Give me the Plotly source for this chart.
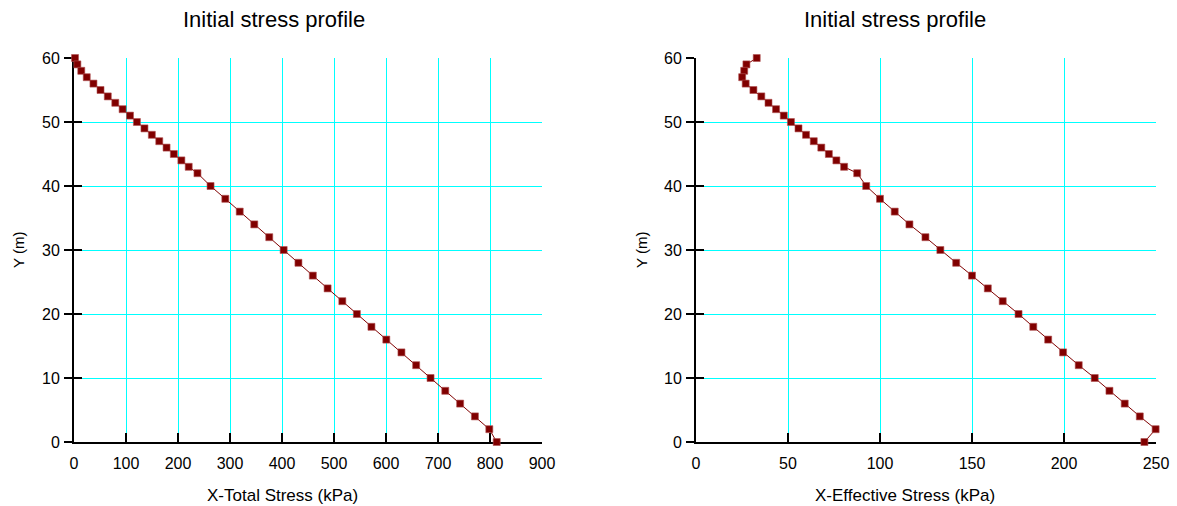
import plotly.graph_objects as go

# ---------------- data ----------------
depth_y = [60, 59, 58, 57, 56, 55, 54, 53, 52, 51, 50, 49, 48, 47, 46, 45, 44, 43, 42,
           40, 38, 36, 34, 32, 30, 28, 26, 24, 22, 20, 18, 16, 14, 12, 10, 8, 6, 4, 2, 0]
total_stress = [2, 6.5, 14, 24.5, 37.4, 51, 65, 79.4, 93.5, 107.7, 121, 135.5, 149.7, 164,
                178, 192, 206.5, 220.6, 237.4,
                262.6, 291, 318.7, 346.7, 375.5, 403.2, 431.6, 459.3, 487.7, 516, 544, 572,
                600.6, 629.7, 658, 685.7, 714, 742.6, 771, 798.7, 812.9]
effective_stress = [33.0, 27.4, 26.2, 25.1, 27.0, 31.2, 35.5, 39.4, 43.5, 47.7, 51.6, 55.7,
                    59.8, 64.0, 68.1, 72.2, 76.3, 80.5, 87.6,
                    92.5, 100, 108, 116, 124.7, 132.8, 141.4, 150, 158.6, 166.7, 175.3, 183.3,
                    191.4, 199.5, 208, 216.7, 224.7, 233, 241.2, 249.8, 243.7]

left_xticks = [0, 100, 200, 300, 400, 500, 600, 700, 800, 900]
right_xticks = [0, 50, 100, 150, 200, 250]
yticks = [0, 10, 20, 30, 40, 50, 60]

title_text = "Initial stress profile"
left_xtitle = "X-Total Stress (kPa)"
right_xtitle = "X-Effective Stress (kPa)"
ytitle = "Y (m)"

# ---------------- layout geometry ----------------
W, H = 1177, 506
FONT = "Liberation Sans, Arial, sans-serif"
LINE = "#800000"
GRID = "#00FFFF"

def px_x(p):
    return p / W

def px_y(p):
    return 1 - p / H

ydom = [px_y(442), px_y(58)]
left_dom = [px_x(74), px_x(542)]
right_dom = [px_x(696), px_x(1156)]

fig = go.Figure()

marker = dict(symbol="square", size=7, color=LINE, line=dict(width=0.6, color="#b05050"))
fig.add_trace(go.Scatter(x=total_stress, y=depth_y, mode="lines+markers",
                         line=dict(color=LINE, width=1), marker=marker,
                         xaxis="x", yaxis="y", cliponaxis=False, hoverinfo="skip"))
fig.add_trace(go.Scatter(x=effective_stress, y=depth_y, mode="lines+markers",
                         line=dict(color=LINE, width=1), marker=marker,
                         xaxis="x2", yaxis="y2", cliponaxis=False, hoverinfo="skip"))
# invisible traces for the overlay tick axes
fig.add_trace(go.Scatter(x=[None], y=[None], xaxis="x", yaxis="y3", showlegend=False))
fig.add_trace(go.Scatter(x=[None], y=[None], xaxis="x2", yaxis="y4", showlegend=False))

tickfont = dict(family=FONT, size=16, color="black")
GW = 1

def xaxis(dom, rng, vals, anchor):
    return dict(domain=dom, range=rng, tickvals=vals, ticktext=[str(v) for v in vals],
                showgrid=True, gridcolor=GRID, gridwidth=GW, zeroline=False,
                showline=True, linecolor="black", linewidth=2, mirror=False,
                ticks="inside", ticklen=9, tickwidth=1.5, tickcolor="black",
                tickfont=tickfont, ticklabelstandoff=6, anchor=anchor, automargin=False,
                layer="below traces", fixedrange=True)

def yaxis(rng, vals, anchor):
    return dict(domain=ydom, range=rng, tickvals=vals, ticktext=[str(v) for v in vals],
                showgrid=True, gridcolor=GRID, gridwidth=GW, zeroline=False,
                showline=True, linecolor="black", linewidth=2, mirror=False,
                ticks="outside", ticklen=8, tickwidth=1.5, tickcolor="black",
                tickfont=tickfont, ticklabelstandoff=1, anchor=anchor, automargin=False,
                layer="below traces", fixedrange=True)

def yover(base, rng, vals, anchor):
    return dict(overlaying=base, range=rng, tickvals=vals, anchor=anchor, side="left",
                showgrid=False, zeroline=False, showline=False, showticklabels=False,
                ticks="inside", ticklen=8, tickwidth=1.5, tickcolor="black", automargin=False,
                layer="below traces", fixedrange=True)

fig.update_layout(
    template="none",
    width=W, height=H,
    margin=dict(l=0, r=0, t=0, b=0, autoexpand=False),
    paper_bgcolor="white", plot_bgcolor="white",
    showlegend=False,
    font=dict(family=FONT, color="black"),
    xaxis=xaxis(left_dom, [0, 900], left_xticks, "y"),
    yaxis=yaxis([0, 60], yticks, "x"),
    xaxis2=xaxis(right_dom, [0, 250], right_xticks, "y2"),
    yaxis2=yaxis([0, 60], yticks, "x2"),
    yaxis3=yover("y", [0, 60], yticks, "x"),
    yaxis4=yover("y2", [0, 60], yticks, "x2"),
)

def ann(text, x, y, size, angle=0):
    fig.add_annotation(text=text, x=px_x(x), y=px_y(y), xref="paper", yref="paper",
                       showarrow=False, textangle=angle, xanchor="center", yanchor="middle",
                       font=dict(family=FONT, size=size, color="black"))

ann(title_text, 274, 20, 22)
ann(title_text, 895, 20, 22)
ann(left_xtitle, 282, 495, 17)
ann(right_xtitle, 905, 495, 17)
ann(ytitle, 18, 250, 15, -90)
ann(ytitle, 641, 250, 15, -90)

fig.write_html("out.html")
